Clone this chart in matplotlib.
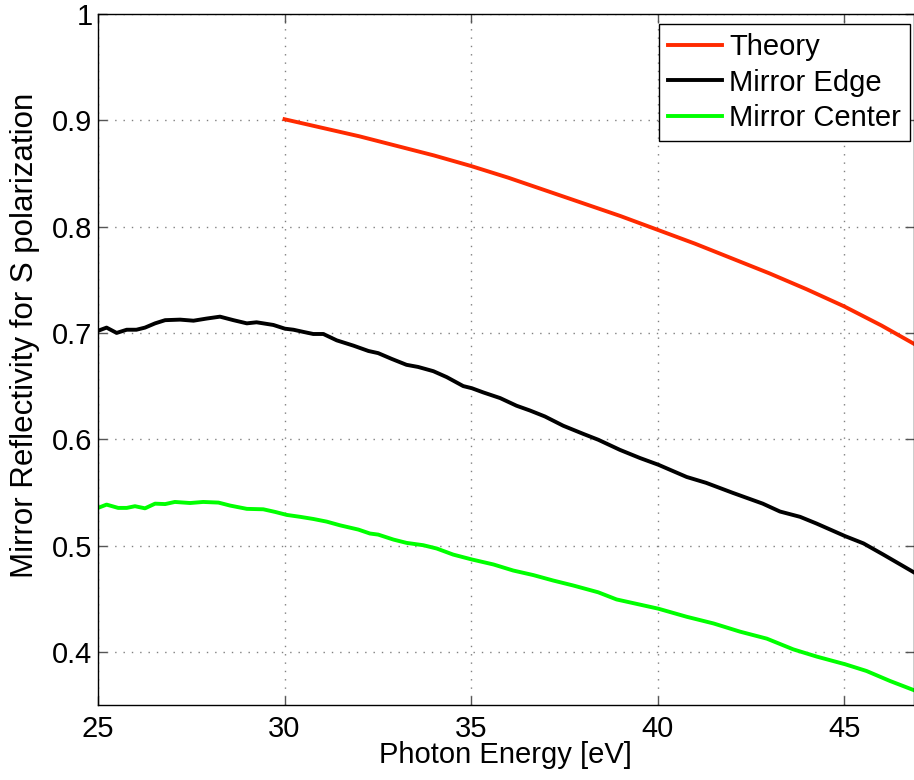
import matplotlib
matplotlib.use('Agg')
import matplotlib.pyplot as plt

plt.rcParams['font.family'] = ['Liberation Sans', 'DejaVu Sans']

# theoretical reflectivity, 30 eV onwards
theory_e = [30, 31, 32, 33, 34, 35, 36, 37, 38, 39, 40, 41, 42, 43, 44, 45, 46, 46.86]
theory_r = [0.901, 0.893, 0.885, 0.876, 0.867, 0.857, 0.846, 0.834, 0.822, 0.810,
            0.797, 0.784, 0.770, 0.756, 0.741, 0.725, 0.707, 0.690]

# measured at the mirror edge
edge_e = [25.0, 25.23, 25.5, 25.77, 26.03, 26.26, 26.53, 26.8, 27.2, 27.56, 27.91, 28.27,
          28.63, 28.99, 29.25, 29.7, 30.01, 30.24, 30.5, 30.77, 31.04, 31.4, 31.85, 32.25,
          32.51, 32.87, 33.27, 33.58, 33.99, 34.35, 34.79, 35.02, 35.33, 35.78, 36.22,
          36.58, 36.98, 37.47, 38.01, 38.41, 38.99, 39.53, 40.02, 40.78, 41.3, 42.02,
          42.82, 43.28, 43.82, 44.26, 45.03, 45.52, 46.05, 46.86]
edge_r = [0.702, 0.705, 0.700, 0.703, 0.703, 0.705, 0.709, 0.712, 0.7125, 0.7115, 0.7135,
          0.7153, 0.712, 0.709, 0.710, 0.7075, 0.704, 0.703, 0.701, 0.699, 0.699, 0.693,
          0.688, 0.683, 0.681, 0.6756, 0.670, 0.668, 0.664, 0.6584, 0.650, 0.648, 0.644,
          0.6387, 0.6315, 0.627, 0.6214, 0.6127, 0.605, 0.5995, 0.590, 0.5823, 0.576,
          0.5645, 0.559, 0.5495, 0.5394, 0.532, 0.527, 0.5207, 0.5088, 0.502, 0.4915, 0.475]

# measured at the mirror center
center_e = [25.0, 25.23, 25.54, 25.77, 25.99, 26.26, 26.53, 26.8, 27.06, 27.47, 27.82,
            28.23, 28.54, 28.99, 29.43, 29.75, 30.06, 30.42, 30.77, 31.13, 31.49, 31.98,
            32.29, 32.51, 32.92, 33.27, 33.72, 34.08, 34.52, 35.02, 35.6, 36.13, 36.67,
            37.2, 37.74, 38.41, 38.9, 40.02, 40.78, 41.5, 42.21, 42.93, 43.64, 44.27,
            45.03, 45.6, 46.23, 46.86]
center_r = [0.5354, 0.5385, 0.5354, 0.5354, 0.537, 0.535, 0.5394, 0.539, 0.541, 0.540,
            0.541, 0.5404, 0.5376, 0.5345, 0.5341, 0.5316, 0.5288, 0.527, 0.525, 0.5225,
            0.519, 0.515, 0.5113, 0.5103, 0.5056, 0.5025, 0.5003, 0.4972, 0.4915, 0.4869,
            0.4822, 0.4765, 0.4722, 0.4671, 0.4624, 0.456, 0.4493, 0.4406, 0.433, 0.4267,
            0.419, 0.4124, 0.4023, 0.3955, 0.3883, 0.382, 0.3726, 0.3641]

fig = plt.figure(figsize=(9.14, 7.8), dpi=100)
ax = fig.add_axes([98 / 914, 1 - 705 / 780, 815.5 / 914, 691 / 780])

lw = 2.8
ax.plot(theory_e, theory_r, color='#ff2a00', lw=lw, label='Theory')
ax.plot(edge_e, edge_r, color='black', lw=lw, label='Mirror Edge')
ax.plot(center_e, center_r, color='#00ff00', lw=lw, label='Mirror Center')

ax.set_xlim(25, 46.86)
ax.set_ylim(0.35, 1.0)
ax.set_xticks([25, 30, 35, 40, 45])
ax.set_yticks([0.4, 0.5, 0.6, 0.7, 0.8, 0.9, 1.0])
ax.set_yticklabels(['0.4', '0.5', '0.6', '0.7', '0.8', '0.9', '1'])

ax.grid(True, color='#808080', linestyle=(0, (1, 5)), linewidth=1)
ax.tick_params(direction='in', length=6.5, width=1, color='#555555',
               top=True, right=True, labelsize=21)
ax.tick_params(axis='x', pad=7)
ax.tick_params(axis='y', pad=4)
for s in ax.spines.values():
    s.set_linewidth(1)

ax.set_xlabel('Photon Energy [eV]', fontsize=21)
ax.set_ylabel('Mirror Reflectivity for S polarization', fontsize=22.5)
ax.xaxis.set_label_coords(0.5, -0.052)
ax.yaxis.set_label_coords(-0.071, 0.535)

leg = ax.legend(loc='upper right', bbox_to_anchor=(910 / 914, 1 - 24 / 780),
                bbox_transform=fig.transFigure, borderaxespad=0, fontsize=21,
                handlelength=1.85, handletextpad=0.25, labelspacing=0.27,
                borderpad=0.3, fancybox=False, framealpha=1)
leg.get_frame().set_edgecolor('black')
leg.get_frame().set_linewidth(1)

fig.savefig('out.png', dpi=100)
